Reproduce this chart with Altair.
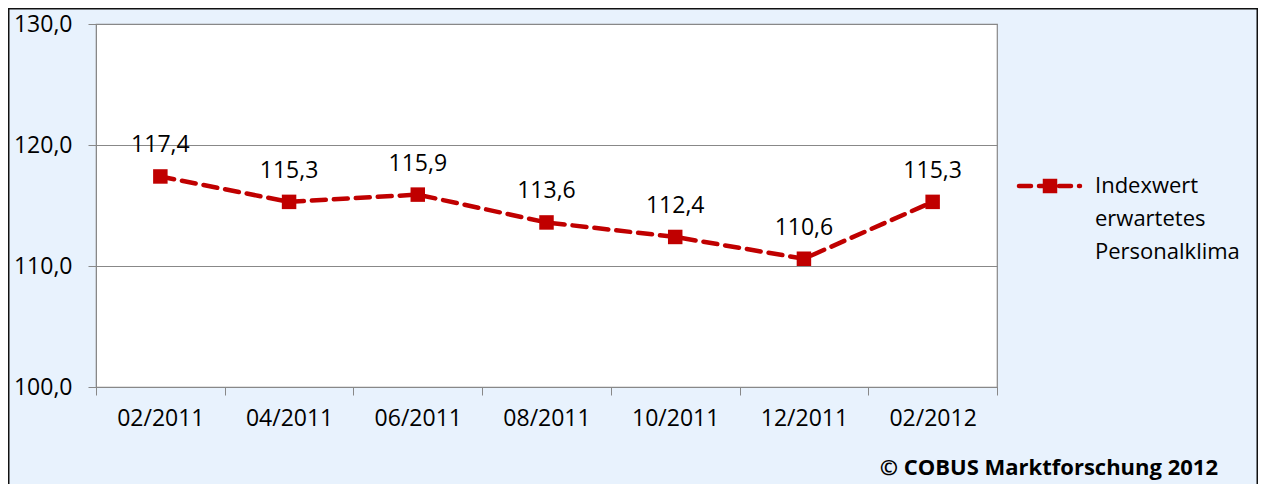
import altair as alt
import pandas as pd

periods = ["02/2011", "04/2011", "06/2011", "08/2011", "10/2011", "12/2011", "02/2012"]
values = [117.4, 115.3, 115.9, 113.6, 112.4, 110.6, 115.3]
series_lines = ["Indexwert", "erwartetes", "Personalklima"]
footer_text = "© COBUS Marktforschung 2012"
y_ticks = [100, 110, 120, 130]

RED = "#C00000"
FONT = "Open Sans"

df = pd.DataFrame({"period": periods, "value": values})

x = alt.X("period:N", sort=periods, title=None,
          scale=alt.Scale(paddingInner=0, paddingOuter=0),
          axis=alt.Axis(labelAngle=0, tickBand="extent", tickSize=8, tickColor="#888",
                        domainColor="#888", labelFontSize=23, labelFont=FONT,
                        labelColor="#000", labelPadding=12, grid=False))
y = alt.Y("value:Q", title=None,
          scale=alt.Scale(domain=[100, 130], nice=False, zero=False),
          axis=alt.Axis(values=y_ticks, labelExpr="replace(format(datum.value, '.1f'), '.', ',')",
                        tickSize=8, tickColor="#888", domainColor="#888", gridColor="#888",
                        gridWidth=1.2, labelFontSize=23, labelFont=FONT, labelColor="#000",
                        labelPadding=16))

base = alt.Chart(df).encode(x=x, y=y)

line = base.mark_line(color=RED, strokeWidth=4.5, strokeDash=[14, 8], strokeCap="round")
pts = base.mark_point(shape="square", filled=True, color=RED, size=210, opacity=1)
labels = base.transform_calculate(
    lab="replace(format(datum.value, '.1f'), '.', ',')"
).mark_text(dy=-31, fontSize=23, font=FONT, color="#000").encode(text="lab:N")

one = pd.DataFrame({"t": [0]})
leg_line = alt.Chart(one).mark_rule(color=RED, strokeWidth=4.5, strokeDash=[12, 8], strokeCap="round").encode(
    x=alt.value(923), x2=alt.value(984), y=alt.value(162))
leg_pt = alt.Chart(one).mark_point(shape="square", filled=True, color=RED, size=210, opacity=1).encode(
    x=alt.value(954), y=alt.value(162))
leg_txt = alt.Chart(pd.DataFrame({"t": ["\n".join(series_lines)]})).mark_text(
    align="left", baseline="middle", lineBreak="\n", lineHeight=33, fontSize=22, font=FONT,
    color="#000").encode(x=alt.value(999), y=alt.value(162), text="t:N")
footer = alt.Chart(pd.DataFrame({"t": [footer_text]})).mark_text(
    align="right", baseline="middle", fontSize=22, fontWeight="bold", font=FONT, color="#000"
).encode(x=alt.value(1122), y=alt.value(444), text="t:N")
frame = alt.Chart(one).mark_rect(fillOpacity=0, stroke="#111", strokeWidth=3).encode(
    x=alt.value(-88), x2=alt.value(1162), y=alt.value(-16), y2=alt.value(490))

chart = alt.layer(line, pts, labels, leg_line, leg_pt, leg_txt, footer, frame).properties(
    width=901, height=363,
    autosize=alt.AutoSizeParams(type="none"),
    padding={"left": 88, "top": 16, "right": 261, "bottom": 97},
    background="#E8F2FD",
).configure_view(fill="white", stroke="#888", strokeWidth=1.2)

chart.save("out.html", embed_options={"renderer": "svg", "actions": False})
